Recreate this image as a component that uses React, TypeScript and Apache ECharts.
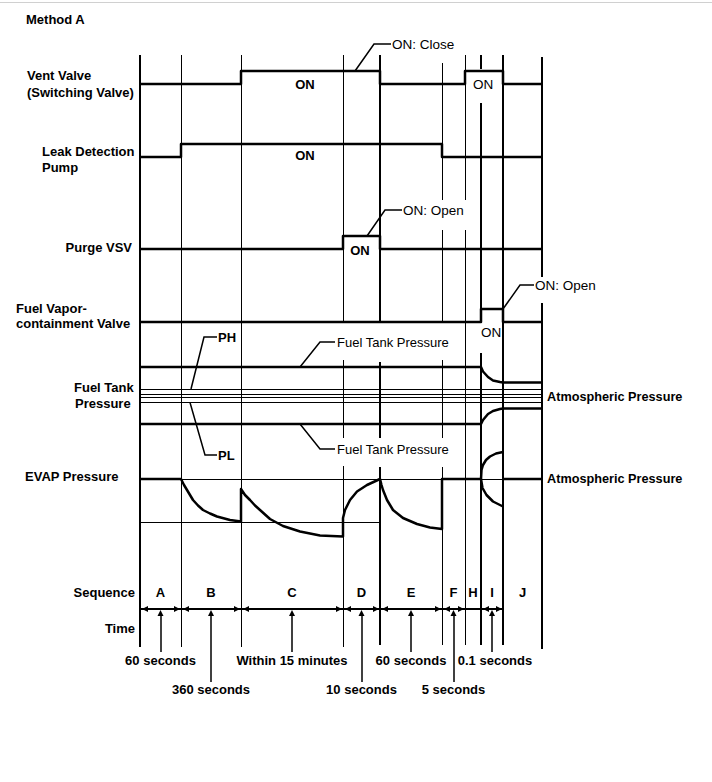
import React, { useEffect, useRef } from 'react';
import * as echarts from 'echarts';

// ---------------- data ----------------
const phases = ['A', 'B', 'C', 'D', 'E', 'F', 'H', 'I', 'J'];
// phase boundaries in schematic time units (the diagram is not to scale)
const phaseEdges = [0, 41, 101, 203, 240, 302, 325, 341, 363, 402];
const heavyEdges = [1, 0, 0, 0, 1, 0, 0, 1, 1, 1];

// on/off state per phase
const ventValve = [0, 0, 1, 1, 0, 0, 1, 1, 0];
const leakDetectionPump = [0, 1, 1, 1, 1, 0, 0, 0, 0];
const purgeVsv = [0, 0, 0, 1, 0, 0, 0, 0, 0];
const fuelVaporValve = [0, 0, 0, 0, 0, 0, 0, 1, 0];

const durationPhases = ['A', 'B', 'C', 'D', 'E', 'F', 'I'];
const durationLabels = ['60 seconds', '360 seconds', 'Within 15 minutes', '10 seconds', '60 seconds', '5 seconds', '0.1 seconds'];
const durationRow = [0, 1, 0, 1, 0, 1, 0];

// traced pressure curves: [time unit, level]
const tankPressureHigh = [[0, 367], [341, 367], [343, 371.5], [348, 377], [353, 380.5], [360, 382], [363, 382.5], [402, 382.5]];
const tankPressureLow = [[0, 424], [341, 424], [343, 420], [348, 414], [353, 411], [360, 409], [363, 408.5], [402, 408.5]];
const evapPressure = [
  [0, 479], [41, 479], [44, 485], [47, 490], [50, 495], [53, 500], [58, 505.5], [63, 510], [70, 513.5], [77, 516.5], [90, 520], [101, 521.5],
  [101, 489], [105, 495], [110, 500], [115, 505.5], [120, 510], [130, 519], [143, 526], [160, 531.5], [180, 535.5], [203, 536.5],
  [203, 518], [205, 510], [210, 500], [217, 491.5], [227, 485], [240, 479],
  [241.5, 485], [243, 490], [247, 500], [253, 510], [263, 518], [277, 524], [290, 527.5], [302, 529],
  [302, 479], [341, 479],
];
const evapUpperBranch = [[341, 479], [341.5, 470], [343, 465], [346, 460], [350, 456.5], [356, 453.5], [363, 452]];
const evapLowerBranch = [[341, 479], [342.5, 488], [346.5, 495], [353, 501.5], [363, 506.5]];
const evapAfter = [[363, 479], [402, 479]];

const tankThresholdLevels = [389, 394.5, 397, 402.5];

// ---------------- layout ----------------
const X0 = 140; // pixel of time unit 0
const u = (px: number) => px - X0;
const rows: Record<string, [number, number]> = {
  vent: [84, 71],
  leak: [157, 144],
  purge: [249, 236],
  fvc: [322, 309],
};
const edgeTop = [55, 55, 55, 55, 55, 63, 55, 55, 55, 57];
const edgeBottom = [647, 647, 647, 647, 645, 645, 645, 645, 645, 649];
const edgeGaps: number[][][] = [
  [], [], [],
  [[323, 360], [438, 466]],
  [[323, 362], [438, 467]],
  [[200, 230], [322, 360], [438, 467]],
  [[200, 230]],
  [[69, 103], [310, 353]],
  [],
  [[277, 303]],
];
const TIMELINE_Y = 609;
const FONT = '"Liberation Sans", Arial, Helvetica, sans-serif';

function steps(levels: number[], row: [number, number]) {
  const pts: number[][] = [];
  levels.forEach((lv, i) => {
    const y = row[lv];
    pts.push([phaseEdges[i], y], [phaseEdges[i + 1], y]);
  });
  return pts;
}

function lineSeries(data: number[][], width = 2.5) {
  return {
    type: 'line',
    data,
    showSymbol: false,
    symbol: 'none',
    silent: true,
    z: 5,
    lineStyle: { color: '#000', width, join: 'round', cap: 'butt' },
  };
}

function buildOption() {
  const series: any[] = [];

  // vertical phase boundaries
  const vItems: any[] = [];
  phaseEdges.forEach((x, i) => {
    let start = edgeTop[i];
    const pieces: number[][] = [];
    edgeGaps[i].forEach(([a, b]) => {
      pieces.push([start, a]);
      start = b;
    });
    pieces.push([start, edgeBottom[i]]);
    pieces.forEach(([a, b]) => {
      vItems.push({ coords: [[x, a], [x, b]], lineStyle: { width: heavyEdges[i] ? 2 : 1, color: '#000' } });
    });
  });

  // thin reference levels
  const refItems: any[] = tankThresholdLevels.map((y) => ({ coords: [[phaseEdges[0], y], [phaseEdges[9], y]] }));
  refItems.push({ coords: [[phaseEdges[0], 479], [phaseEdges[9], 479]] });
  refItems.push({ coords: [[phaseEdges[0], 522], [phaseEdges[4], 522]] });

  series.push({
    type: 'lines', coordinateSystem: 'cartesian2d', silent: true, z: 3,
    lineStyle: { color: '#000', width: 1, opacity: 1 },
    data: [...vItems, ...refItems.map((d) => ({ ...d, lineStyle: { width: 1, color: '#000' } }))],
  });

  // timeline
  series.push({
    type: 'lines', coordinateSystem: 'cartesian2d', silent: true, z: 4,
    lineStyle: { color: '#000', width: 2, opacity: 1 },
    data: [{ coords: [[phaseEdges[0], TIMELINE_Y], [phaseEdges[8], TIMELINE_Y]] }],
  });
  // dimension arrowheads
  const dimItems: any[] = [];
  phases.forEach((p, i) => {
    if (p === 'H' || p === 'J') return;
    dimItems.push({ coords: [[phaseEdges[i] + 5, TIMELINE_Y], [phaseEdges[i + 1] - 4, TIMELINE_Y]] });
  });
  series.push({
    type: 'lines', coordinateSystem: 'cartesian2d', silent: true, z: 4,
    symbol: ['triangle', 'triangle'], symbolSize: 6,
    itemStyle: { color: '#000' },
    lineStyle: { color: '#000', width: 1, opacity: 1 },
    data: dimItems,
  });
  // duration arrows
  const durItems: any[] = durationPhases.map((p, k) => {
    const i = phases.indexOf(p);
    const cx = (phaseEdges[i] + phaseEdges[i + 1]) / 2;
    const bottom = durationRow[k] ? 682 : 652;
    return { coords: [[cx, bottom], [cx, TIMELINE_Y + 4]] };
  });
  series.push({
    type: 'lines', coordinateSystem: 'cartesian2d', silent: true, z: 4,
    symbol: ['none', 'triangle'], symbolSize: 6,
    lineStyle: { color: '#000', width: 1.5, opacity: 1 },
    data: durItems,
  });

  // leader lines
  const leaders = [
    [[355, 71], [374, 44], [391, 44]],
    [[367, 236], [385, 210], [402, 210]],
    [[503, 309], [520, 285], [534, 285]],
    [[191, 389], [204, 337], [217, 337]],
    [[190, 402.5], [205, 455], [217, 455]],
    [[300, 367], [320, 342], [335, 342]],
    [[300, 424], [320, 449], [335, 449]],
  ];
  series.push({
    type: 'lines', coordinateSystem: 'cartesian2d', polyline: true, silent: true, z: 4,
    lineStyle: { color: '#000', width: 1.5, opacity: 1 },
    data: leaders.map((l) => ({ coords: l.map(([x, y]) => [u(x), y]) })),
  });

  // signals
  series.push(lineSeries(steps(ventValve, rows.vent)));
  series.push(lineSeries(steps(leakDetectionPump, rows.leak)));
  series.push(lineSeries(steps(purgeVsv, rows.purge)));
  series.push(lineSeries(steps(fuelVaporValve, rows.fvc)));
  series.push(lineSeries(tankPressureHigh));
  series.push(lineSeries(tankPressureLow));
  series.push(lineSeries(evapPressure));
  series.push(lineSeries(evapUpperBranch));
  series.push(lineSeries(evapLowerBranch));
  series.push(lineSeries(evapAfter));

  // sequence letters and durations as labels
  series.push({
    type: 'scatter', silent: true, symbol: 'circle', symbolSize: 1, z: 6,
    itemStyle: { color: '#fff', opacity: 1 },
    label: {
      show: true, position: [0.5, 0.5], align: 'center', verticalAlign: 'middle',
      formatter: (p: any) => p.name,
      fontFamily: FONT, fontSize: 13, fontWeight: 'bold', color: '#000',
      textBorderWidth: 0,
    },
    data: [
      ...phases.map((p, i) => ({ name: p, value: [(phaseEdges[i] + phaseEdges[i + 1]) / 2, 592] })),
      ...durationPhases.map((p, k) => {
        const i = phases.indexOf(p);
        const cx = (phaseEdges[i] + phaseEdges[i + 1]) / 2;
        return { name: durationLabels[k], value: [cx + (p === 'I' ? 3 : 0), durationRow[k] ? 689 : 660] };
      }),
    ],
  });

  const txt = (text: string, x: number, y: number, align = 'left', bold = true, size = 13) => ({
    type: 'text', x, y, z: 20, silent: true,
    style: {
      text, fill: '#000', textAlign: align, textVerticalAlign: 'middle',
      font: `${bold ? 'bold ' : ''}${size}px ${FONT}`,
    },
  });

  const graphic: any[] = [
    { type: 'line', silent: true, shape: { x1: 0, y1: 2.5, x2: 712, y2: 2.5 }, style: { stroke: '#d0d0d0', lineWidth: 1 } },
    txt('Method A', 26, 19),
    txt('Vent Valve', 27, 75.5),
    txt('(Switching Valve)', 27, 92),
    txt('Leak Detection', 42, 151.5),
    txt('Pump', 42, 167),
    txt('Purge VSV', 132, 247, 'right'),
    txt('Fuel Vapor-', 16, 308),
    txt('containment Valve', 16, 323),
    txt('Fuel Tank', 74, 387),
    txt('Pressure', 75, 403),
    txt('EVAP Pressure', 25, 476),
    txt('Sequence', 135, 592, 'right'),
    txt('Time', 135, 628, 'right'),
    txt('PH', 218, 337),
    txt('PL', 218, 455),
    txt('Atmospheric Pressure', 547, 397, 'left', true, 12.7),
    txt('Atmospheric Pressure', 547, 479, 'left', true, 12.7),
    txt('ON', 305, 84, 'center'),
    txt('ON', 305, 155, 'center'),
    txt('ON', 360, 250, 'center'),
    txt('ON: Close', 392, 44, 'left', false, 13.5),
    txt('ON: Open', 403, 210, 'left', false, 13.5),
    txt('ON: Open', 535, 285, 'left', false, 13.5),
    txt('Fuel Tank Pressure', 337, 342, 'left', false),
    txt('Fuel Tank Pressure', 337, 449, 'left', false),
    txt('ON', 483, 84, 'center', false, 13.5),
    txt('ON', 491, 332, 'center', false, 13.5),
  ];

  return {
    animation: false,
    backgroundColor: '#fff',
    grid: { left: 0, right: 0, top: 0, bottom: 0 },
    xAxis: { type: 'value', min: -X0, max: 712 - X0, show: false },
    yAxis: { type: 'value', min: 0, max: 782, inverse: true, show: false },
    series,
    graphic,
  };
}

export default function App() {
  const ref = useRef<HTMLDivElement>(null);
  useEffect(() => {
    if (!ref.current) return;
    const chart = echarts.init(ref.current, undefined, { renderer: 'svg' });
    chart.setOption(buildOption() as any);
    return () => chart.dispose();
  }, []);
  return (
    <div
      ref={ref}
      style={{ position: 'fixed', left: 0, top: 0, width: 712, height: 782, background: '#fff' }}
    />
  );
}
